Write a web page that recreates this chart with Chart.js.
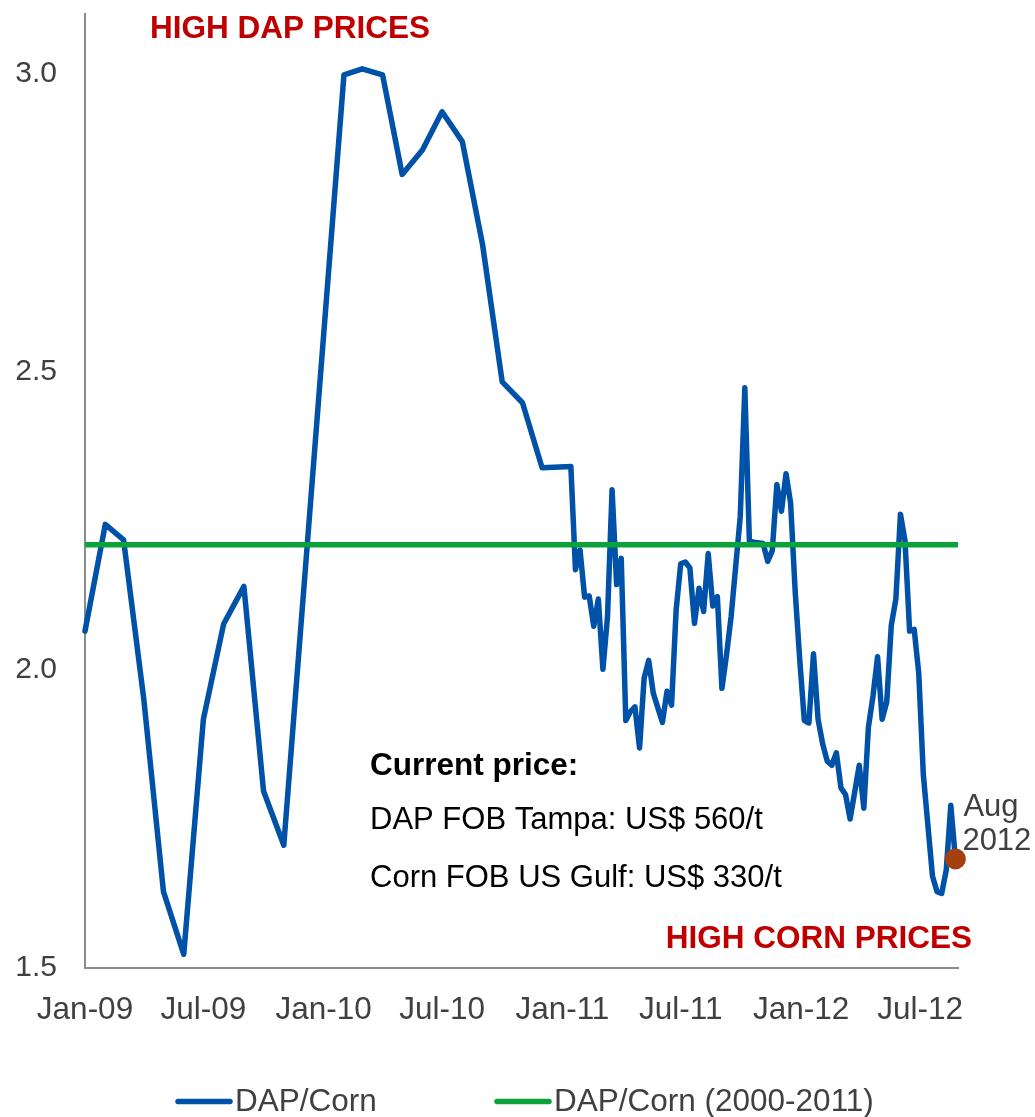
<!DOCTYPE html>
<html><head><meta charset="utf-8">
<script src="https://cdn.jsdelivr.net/npm/chart.js@4.4.1/dist/chart.umd.min.js"></script>
<style>html,body{margin:0;padding:0;background:#fff}#wrap{width:1035px;height:1117px;position:relative}</style>
</head><body><div id="wrap"><canvas id="c"></canvas></div>
<script>
// ---- data ----
const dapCornDates = [
 '2009-01-01','2009-02-01','2009-03-01','2009-04-01','2009-05-01','2009-06-01','2009-07-01','2009-08-01','2009-09-01','2009-10-01','2009-11-01',
 '2010-02-01','2010-03-01','2010-04-01','2010-05-01','2010-06-01','2010-07-01','2010-08-01','2010-09-01','2010-10-01','2010-11-01','2010-12-01',
 '2011-01-14','2011-01-21','2011-01-28','2011-02-04','2011-02-11','2011-02-18','2011-02-25','2011-03-04','2011-03-11','2011-03-18','2011-03-25',
 '2011-04-01','2011-04-08','2011-04-15','2011-04-22','2011-04-29','2011-05-06','2011-05-13','2011-05-20','2011-06-03','2011-06-10','2011-06-17',
 '2011-06-24','2011-07-01','2011-07-08','2011-07-15','2011-07-22','2011-07-29','2011-08-05','2011-08-12','2011-08-19','2011-08-26','2011-09-02',
 '2011-09-09','2011-09-16','2011-09-30','2011-10-07','2011-10-14','2011-10-21','2011-11-04','2011-11-11','2011-11-18','2011-11-25','2011-12-02',
 '2011-12-09','2011-12-16','2011-12-23','2011-12-30','2012-01-06','2012-01-13','2012-01-20','2012-01-27','2012-02-03','2012-02-10','2012-02-17',
 '2012-02-24','2012-03-02','2012-03-09','2012-03-16','2012-03-30','2012-04-06','2012-04-13','2012-04-20','2012-04-27','2012-05-04','2012-05-11',
 '2012-05-18','2012-05-25','2012-06-01','2012-06-08','2012-06-15','2012-06-22','2012-06-29','2012-07-06','2012-07-20','2012-07-27','2012-08-03',
 '2012-08-10','2012-08-17','2012-08-24'
];
const dapCornValues = [
 2.065,2.244,2.218,1.950,1.628,1.523,1.917,2.077,2.140,1.797,1.706,
 2.998,3.008,2.998,2.831,2.872,2.936,2.886,2.713,2.483,2.448,2.339,
 2.341,2.168,2.201,2.122,2.124,2.073,2.119,2.001,2.089,2.302,2.143,
 2.187,1.915,1.930,1.938,1.869,1.986,2.016,1.961,1.912,1.964,1.941,
 2.101,2.178,2.181,2.171,2.078,2.137,2.098,2.195,2.107,2.123,1.969,
 2.025,2.089,2.257,2.473,2.216,2.214,2.212,2.182,2.200,2.311,2.266,
 2.329,2.280,2.132,2.017,1.915,1.911,2.027,1.917,1.876,1.847,1.840,
 1.861,1.802,1.791,1.750,1.840,1.768,1.904,1.956,2.022,1.917,1.946,
 2.075,2.119,2.261,2.216,2.065,2.068,1.994,1.824,1.654,1.628,1.625,
 1.664,1.773,1.683
];
const averageDates = ['2009-01-01','2012-08-28'];
const averageValues = [2.21, 2.21];
const seriesLabels = ['DAP/Corn', 'DAP/Corn (2000-2011)'];
const tickDates = ['2009-01-01','2009-07-01','2010-01-01','2010-07-01','2011-01-01','2011-07-01','2012-01-01','2012-07-01'];
const tickLabels = ['Jan-09','Jul-09','Jan-10','Jul-10','Jan-11','Jul-11','Jan-12','Jul-12'];
const yTickValues = [1.5, 2.0, 2.5, 3.0];
const headerTop = 'HIGH DAP PRICES';
const headerBottom = 'HIGH CORN PRICES';
const noteLines = ['Current price:', 'DAP FOB Tampa: US$ 560/t', 'Corn FOB US Gulf: US$ 330/t'];
const lastPointLabel = ['Aug', '2012'];

// ---- helpers ----
const ORIGIN = Date.UTC(2009, 0, 1);
function dayOf(s) { const p = s.split('-').map(Number); return (Date.UTC(p[0], p[1] - 1, p[2]) - ORIGIN) / 86400000; }

const FONT = '"Liberation Sans", Arial, sans-serif';
const BLUE = '#0051A8', GREEN = '#0BA23A', DOT = '#A3400B', AXIS = '#8C8C8C', TXT = '#404040', RED = '#C00000';

const dapData = dapCornDates.map((d, i) => ({ x: dayOf(d), y: dapCornValues[i] }));
const avgData = averageDates.map((d, i) => ({ x: dayOf(d), y: averageValues[i] }));
const lastIdx = dapData.length - 1;

const textPlugin = {
  id: 'texts',
  afterDraw(chart) {
    const ctx = chart.ctx;
    ctx.save();
    ctx.textBaseline = 'alphabetic';
    ctx.fillStyle = RED;
    ctx.font = 'bold 31.5px ' + FONT;
    ctx.textAlign = 'left';
    ctx.fillText(headerTop, 150, 37.5);
    ctx.textAlign = 'right';
    ctx.fillText(headerBottom, 972, 948);
    ctx.textAlign = 'left';
    ctx.fillStyle = '#000';
    ctx.font = 'bold 31.5px ' + FONT;
    ctx.fillText(noteLines[0], 370, 775);
    ctx.font = '31px ' + FONT;
    ctx.fillText(noteLines[1], 370, 829);
    ctx.fillText(noteLines[2], 370, 887);
    const meta = chart.getDatasetMeta(1);
    const pt = meta.data[lastIdx];
    ctx.fillStyle = TXT;
    ctx.font = '31px ' + FONT;
    ctx.fillText(lastPointLabel[0], pt.x + 8, pt.y - 43);
    ctx.fillText(lastPointLabel[1], pt.x + 7, pt.y - 9);
    const items = [
      { ds: chart.data.datasets[1], x: 176 },
      { ds: chart.data.datasets[0], x: 495 }
    ];
    ctx.font = '31.5px ' + FONT;
    items.forEach(it => {
      ctx.strokeStyle = it.ds.borderColor;
      ctx.lineWidth = 5.5;
      ctx.lineCap = 'round';
      ctx.beginPath();
      ctx.moveTo(it.x + 2, 1101.5);
      ctx.lineTo(it.x + 54, 1101.5);
      ctx.stroke();
      ctx.fillStyle = TXT;
      ctx.fillText(it.ds.label, it.x + 59, 1111);
    });
    ctx.restore();
  }
};

new Chart(document.getElementById('c'), {
  type: 'line',
  data: {
    datasets: [
      { label: seriesLabels[1], data: avgData, borderColor: GREEN, borderWidth: 5.5, borderCapStyle: 'round', pointRadius: 0, tension: 0 },
      { label: seriesLabels[0], data: dapData, borderColor: BLUE, borderWidth: 5.5, borderCapStyle: 'round', borderJoinStyle: 'round', tension: 0,
        clip: false,
        pointRadius: c => c.dataIndex === lastIdx ? 10.5 : 0,
        pointBackgroundColor: DOT, pointBorderColor: DOT, pointBorderWidth: 0, pointHoverRadius: 0 }
    ]
  },
  options: {
    responsive: true, maintainAspectRatio: false, animation: false, events: [],
    layout: { padding: { top: 14, right: 77, bottom: 0, left: 0 } },
    plugins: { legend: { display: false }, tooltip: { enabled: false } },
    scales: {
      x: {
        type: 'linear', min: 0, max: dayOf('2012-08-28'),
        grid: { display: false, drawTicks: false },
        border: { display: true, color: AXIS, width: 2 },
        afterBuildTicks: s => { s.ticks = tickDates.map(d => ({ value: dayOf(d) })); },
        afterFit: s => { s.height = 149; s.paddingLeft = 0; s.paddingRight = 0; },
        ticks: { autoSkip: false, maxRotation: 0, padding: 27, color: TXT,
          font: { family: FONT, size: 31.5, lineHeight: 1 },
          callback: (v, i) => tickLabels[i] }
      },
      y: {
        min: 1.5, max: 3.1,
        grid: { display: false, drawTicks: false },
        border: { display: true, color: AXIS, width: 2 },
        afterBuildTicks: s => { s.ticks = yTickValues.map(v => ({ value: v })); },
        afterFit: s => { s.width = 85; s.paddingTop = 0; s.paddingBottom = 0; },
        ticks: { padding: 28, color: TXT, font: { family: FONT, size: 30, lineHeight: 1 },
          callback: v => Number(v).toFixed(1) }
      }
    }
  },
  plugins: [textPlugin]
});
</script>
</body></html>
